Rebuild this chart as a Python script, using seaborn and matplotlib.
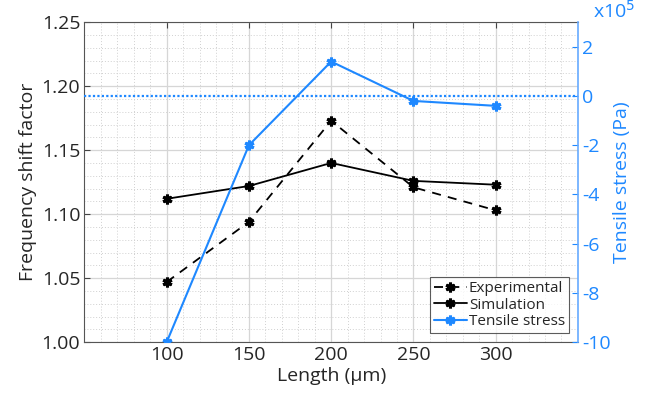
import numpy as np
import matplotlib
matplotlib.use('Agg')
import matplotlib.pyplot as plt
import pandas as pd
import seaborn as sns
from matplotlib.ticker import MultipleLocator

sns.set_style('white')
plt.rcParams['font.family'] = ['Open Sans', 'DejaVu Sans']
plt.rcParams['axes.unicode_minus'] = False

length = [100, 150, 200, 250, 300]
experimental = [1.047, 1.094, 1.173, 1.121, 1.103]
simulation = [1.112, 1.122, 1.140, 1.126, 1.123]
tensile = [-10.0, -2.0, 1.4, -0.2, -0.4]   # x10^5 Pa

blue = '#1E88FF'
star = (6, 2, 0)
fs = 14

df = pd.DataFrame({'Length': length, 'Experimental': experimental,
                   'Simulation': simulation, 'Tensile': tensile})

fig, ax = plt.subplots(figsize=(6.65, 4.03), dpi=100)
ax2 = ax.twinx()

sns.lineplot(data=df, x='Length', y='Experimental', ax=ax, color='k', lw=1.3,
             linestyle=(0, (5, 4)), marker=star, markersize=7, mew=2.2,
             mec='k', label='Experimental', legend=False)
sns.lineplot(data=df, x='Length', y='Simulation', ax=ax, color='k', lw=1.3,
             marker=star, markersize=7, mew=2.2, mec='k',
             label='Simulation', legend=False)
sns.lineplot(data=df, x='Length', y='Tensile', ax=ax2, color=blue, lw=1.5,
             marker=star, markersize=7, mew=2.2, mec=blue,
             label='Tensile stress', legend=False)
ax2.axhline(0, color=blue, ls=(0, (1, 1.0)), lw=1.6)

ax.set_xlim(50, 350)
ax.set_ylim(1.0, 1.25)
ax.set_xticks([100, 150, 200, 250, 300])
ax.set_yticks([1.00, 1.05, 1.10, 1.15, 1.20, 1.25])
ax.set_yticklabels(['1.00', '1.05', '1.10', '1.15', '1.20', '1.25'])
ax.xaxis.set_minor_locator(MultipleLocator(10))
ax.yaxis.set_minor_locator(MultipleLocator(0.01))
ax.grid(which='major', color='#d6d6d6', lw=0.9)
ax.grid(which='minor', color='#d0d0d0', lw=0.7, ls=(0, (1, 2)))
ax.set_axisbelow(True)
ax.tick_params(which='major', direction='in', top=True, length=4,
               labelsize=fs, color='#444444', pad=3)
ax.tick_params(which='minor', length=0)
ax.set_xlabel('Length (μm)', fontsize=fs, labelpad=2)
ax.set_ylabel('Frequency shift factor', fontsize=fs, labelpad=3)
for s in ['left', 'bottom', 'top']:
    ax.spines[s].set_color('#555555')
ax.spines['right'].set_visible(False)

ax2.set_ylim(-10, 3)
ax2.set_yticks([-10, -8, -6, -4, -2, 0, 2])
ax2.tick_params(direction='in', length=4, colors=blue, labelsize=fs, pad=3)
ax2.set_ylabel('Tensile stress (Pa)', color=blue, fontsize=fs, labelpad=2)
ax2.spines['right'].set_color('#66AAFF')
ax2.spines['right'].set_linewidth(1.2)
for s in ['left', 'bottom', 'top']:
    ax2.spines[s].set_visible(False)
fig.text(0.892, 0.972, 'x10$^5$', color=blue, fontsize=fs, ha='left', va='center')

h1, l1 = ax.get_legend_handles_labels()
h2, l2 = ax2.get_legend_handles_labels()
leg = ax2.legend(h1 + h2, l1 + l2, loc='lower right', fontsize=11,
                 frameon=True, fancybox=False, edgecolor='#333333',
                 handlelength=2.2, handletextpad=0.1, borderpad=0.25,
                 labelspacing=0.1, borderaxespad=0.6)
leg.get_frame().set_linewidth(0.8)

plt.subplots_adjust(left=0.127, right=0.869, top=0.945, bottom=0.151)
plt.savefig('out.png', dpi=100)
